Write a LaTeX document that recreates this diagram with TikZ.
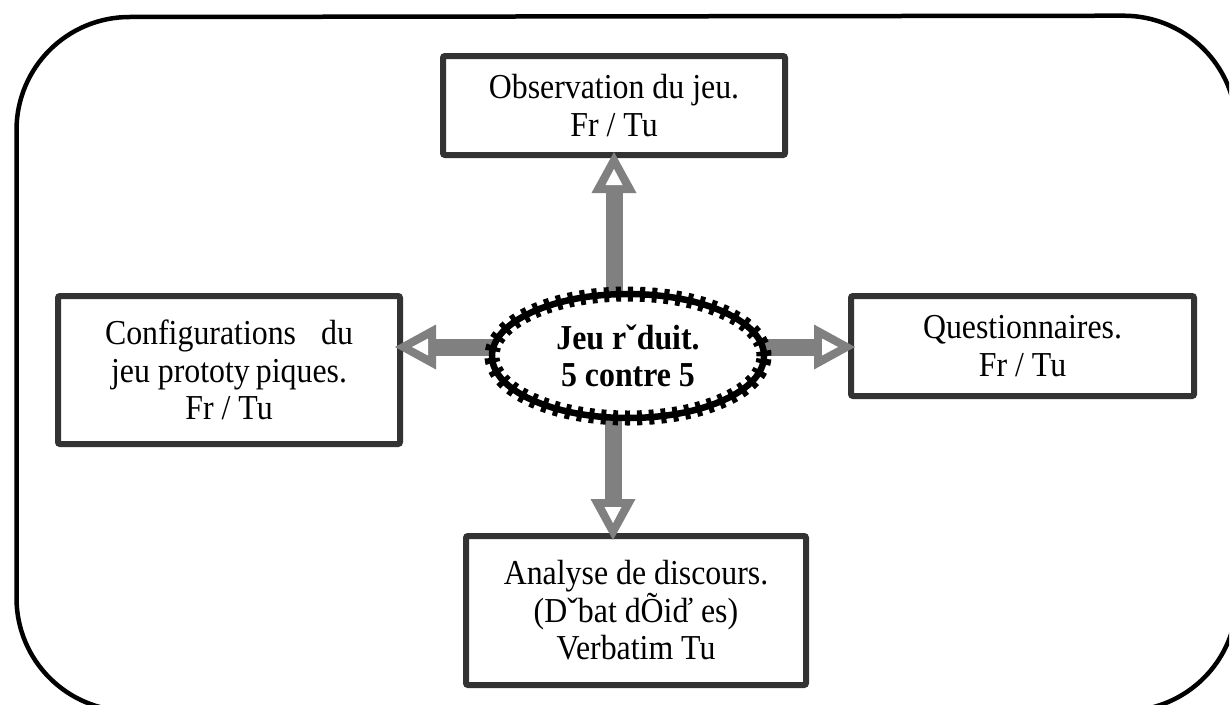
\documentclass[tikz,border=0pt]{standalone}
\usepackage{fontspec}
\setmainfont[FakeStretch=0.91]{Liberation Serif}
\usetikzlibrary{shapes.geometric}
\definecolor{boxgray}{HTML}{333333}
\definecolor{arrgray}{HTML}{808080}
\begin{document}
\begin{tikzpicture}[x=1pt,y=-1pt,
  frame/.style={draw=black, line width=4.5pt},
  box/.style={draw=boxgray, line width=6pt, rounded corners=2pt, fill=white,
    align=center, inner sep=0pt, font=\fontsize{35}{37.5}\selectfont},
  shaft/.style={draw=arrgray, line width=17pt},
  hhead/.pic={
    \fill[arrgray] (0,0) -- (-41,22.5) -- (-41,-22.5) -- cycle;
    \fill[white] (-17,0) -- (-33,8.5) -- (-33,-8.5) -- cycle;
  }
]
\fill[white] (0,0) rectangle (1230,704);
\useasboundingbox (0,0) rectangle (1230,704);
\begin{scope}
\clip (0,0) rectangle (1229,704);
% outer frame (its right side lies beyond the picture)
\draw[frame] (1232,97) arc[start angle=16.3, end angle=90, radius=113pt]
  -- (129.5,17) arc[start angle=90, end angle=180, radius=113pt]
  -- (16.5,598) arc[start angle=180, end angle=270, radius=113pt]
  -- (1124,711) arc[start angle=270, end angle=343.7, radius=113pt];
\end{scope}

% boxes
\node[box, minimum width=342pt, minimum height=99pt] (obs) at (614,105.5)
  {Observation du jeu.\\Fr / Tu};
\node[box, minimum width=342pt, minimum height=148pt] (conf) at (229,370)
  {Configurations\hspace{25pt}du\\jeu prototy\hspace{6pt}piques.\\Fr / Tu};
\node[box, minimum width=343pt, minimum height=100pt] (quest) at (1022.5,346)
  {Questionnaires.\\Fr / Tu};
\node[box, minimum width=340pt, minimum height=149pt] (anal) at (636,610.5)
  {Analyse de discours.\\(Dˇbat dÕiď es)\\Verbatim Tu};

% arrow tips (free ends)
\coordinate (tipU) at (614,152);
\coordinate (tipD) at (613,540);
\coordinate (tipL) at (395,347);
\coordinate (tipR) at (855,347);
\coordinate (ctr) at (628,356);

% shafts
\draw[shaft] (tipU |- ctr) -- ([yshift=-39pt]tipU);
\draw[shaft] (tipD |- ctr) -- ([yshift=39pt]tipD);
\draw[shaft] (tipL -| ctr) -- ([xshift=39pt]tipL);
\draw[shaft] (tipR -| ctr) -- ([xshift=-39pt]tipR);

% central ellipse
\node[ellipse, draw=black, line width=6.5pt, fill=white, inner sep=0pt,
  minimum width=272pt, minimum height=124pt, align=center,
  font=\bfseries\fontsize{35}{37}\selectfont] (jeu) at (ctr)
  {Jeu rˇduit.\\5 contre 5};
\draw[line width=15pt, dash pattern=on 5pt off 7pt]
  (jeu.center) ellipse [x radius=136pt, y radius=62pt];

% heads
\pic[rotate=90] at (tipU) {hhead};
\pic[rotate=-90] at (tipD) {hhead};
\pic[rotate=180] at (tipL) {hhead};
\pic at (tipR) {hhead};
\end{tikzpicture}
\end{document}
